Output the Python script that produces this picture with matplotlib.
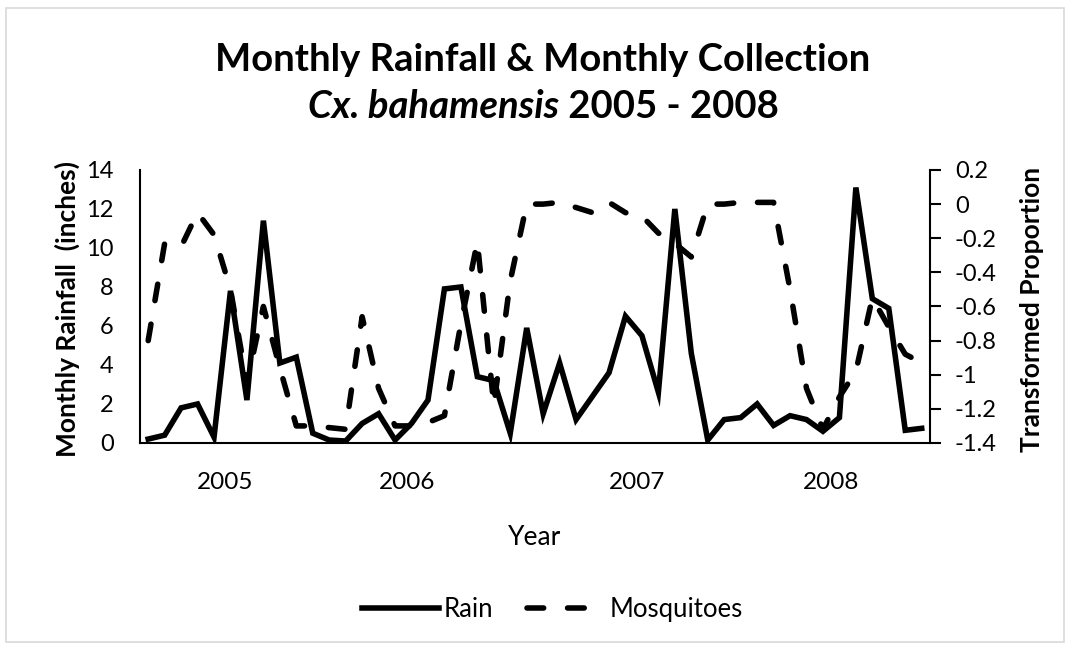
import numpy as np
import matplotlib
matplotlib.use("Agg")
import matplotlib.pyplot as plt
from matplotlib.lines import Line2D
from matplotlib.patches import Rectangle

plt.rcParams['font.family'] = ['Lato', 'DejaVu Sans']

# monthly rainfall (inches), 48 months
rain = [0.2, 0.4, 1.8, 2.0, 0.3, 7.8, 2.2, 11.4, 4.1, 4.4,
        0.5, 0.15, 0.1, 1.0, 1.5, 0.15, 1.0, 2.2, 7.9, 8.0,
        3.4, 3.2, 0.5, 5.9, 1.5, 4.1, 1.2, 2.4, 3.6, 6.5,
        5.5, 2.6, 12.0, 4.6, 0.15, 1.2, 1.3, 2.0, 0.9, 1.4,
        1.2, 0.6, 1.3, 13.1, 7.4, 6.9, 0.65, 0.75]

# transformed proportion of mosquitoes collected
mosq = [-0.80, -0.23, -0.25, -0.05, -0.18, -0.50, -1.05, -0.60, -0.96, -1.30,
        -1.30, -1.31, -1.32, -0.66, -1.08, -1.30, -1.30, -1.28, -1.24, -0.70,
        -0.22, -1.18, -0.45, 0.00, 0.00, 0.01, -0.02, -0.05, 0.01, -0.05,
        -0.07, -0.17, -0.23, -0.31, 0.00, 0.00, 0.01, 0.01, 0.01, -0.50,
        -1.08, -1.32, -1.13, -0.98, -0.55, -0.72, -0.88, -0.93]

year_labels = ['2005', '2006', '2007', '2008']
year_pos = [4.66, 15.7, 29.7, 41.5]

left_ticks = [0, 2, 4, 6, 8, 10, 12, 14]
right_ticks = [-1.4, -1.2, -1, -0.8, -0.6, -0.4, -0.2, 0, 0.2]

dash = (0, (3.0, 4.3))
x = np.arange(len(rain))

fig = plt.figure(figsize=(10.7, 6.48), dpi=100)
fig.patches.append(Rectangle((0.006, 0.01), 0.988, 0.978, transform=fig.transFigure,
                             fill=False, edgecolor='#d9d9d9', linewidth=1.2))

ax = fig.add_axes([0.1308, 0.3164, 0.7383, 0.4213])
ax2 = ax.twinx()

ax.plot(x, rain, color='black', lw=4, solid_joinstyle='miter', zorder=3)
ax2.plot(x, mosq, color='black', lw=4, linestyle=dash, dash_capstyle='round', zorder=2)

ax.set_xlim(-0.5, len(rain) - 0.5)
ax.set_ylim(0, 14)
ax2.set_ylim(-1.4, 0.2)
ax.set_yticks(left_ticks)
ax.set_yticklabels([str(v) for v in left_ticks])
ax2.set_yticks(right_ticks)
ax2.set_yticklabels(['{:g}'.format(v) for v in right_ticks])
ax.set_xticks(year_pos)
ax.set_xticklabels(year_labels)

for a in (ax, ax2):
    a.spines['top'].set_visible(False)
    for s in a.spines.values():
        s.set_linewidth(1.5)
ax.spines['right'].set_visible(False)
ax2.spines['left'].set_visible(False)
ax2.spines['bottom'].set_visible(False)

ax.tick_params(axis='x', length=0, pad=21, labelsize=17.5)
ax.tick_params(axis='y', length=0, pad=19, labelsize=17)
ax2.tick_params(axis='y', length=8, width=1.5, pad=10, labelsize=17)

ax.set_ylabel('Monthly Rainfall  (inches)', fontsize=19, fontweight='bold')
ax.yaxis.set_label_coords(-0.076, 0.49)
ax2.set_ylabel('Transformed Proportion', fontsize=19, fontweight='bold')
ax2.yaxis.set_label_coords(1.114, 0.49)
ax.set_xlabel('Year', fontsize=19, labelpad=23)

fig.text(0.5075, 0.907, 'Monthly Rainfall & Monthly Collection', ha='center', va='center',
         fontsize=27.5, fontweight='bold')
t1 = fig.text(0.0, 0.835, 'Cx. bahamensis', ha='left', va='center',
              fontsize=27.5, fontstyle='italic', fontweight='bold')
t2 = fig.text(0.0, 0.835, ' 2005 - 2008', ha='left', va='center',
              fontsize=27.5, fontweight='bold')
fig.canvas.draw()
r = fig.canvas.get_renderer()
w1 = t1.get_window_extent(r).width / fig.bbox.width
w2 = t2.get_window_extent(r).width / fig.bbox.width
x0 = 0.5075 - (w1 + w2) / 2
t1.set_x(x0)
t2.set_x(x0 + w1)

handles = [Line2D([], [], color='black', lw=4),
           Line2D([], [], color='black', lw=4, linestyle=dash, dash_capstyle='round')]
fig.legend(handles, ['Rain', 'Mosquitoes'], loc='center', bbox_to_anchor=(0.516, 0.06),
           ncol=2, frameon=False, fontsize=18.5, handlelength=3.0, columnspacing=1.3,
           handletextpad=0.2)

fig.savefig('out.png', dpi=100)
